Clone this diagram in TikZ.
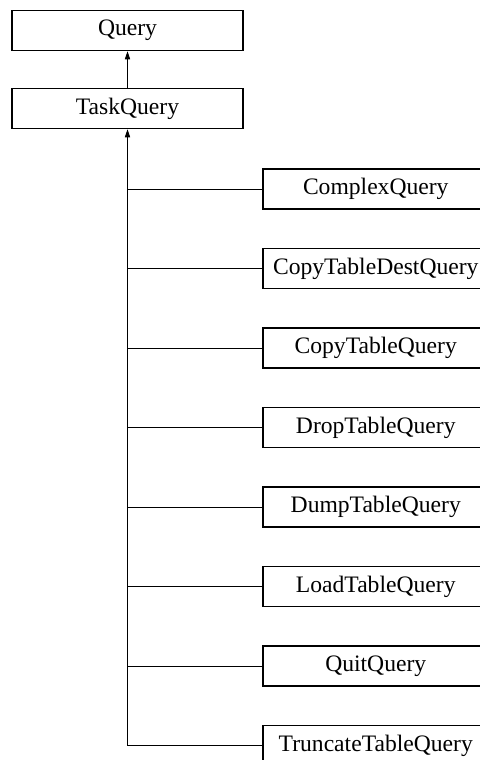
\documentclass[tikz,border=0pt]{standalone}
\usepackage{fontspec}
\setmainfont{Liberation Serif}
\usepackage{tikz}
\usetikzlibrary{arrows.meta,positioning}
\tikzset{
  cls/.style={draw, line width=0.75pt, fill=white, align=center,
              minimum height=20pt, inner sep=2pt,
              font=\fontsize{11.8}{14}\selectfont},
  base/.style={cls, minimum width=115.5pt},
  derived/.style={cls, minimum width=113pt, anchor=west},
  inherit/.style={-{Triangle[length=4pt,width=2.6pt]}, line width=0.5pt},
  branch/.style={line width=0.5pt}
}

\begin{document}
\begin{tikzpicture}[x=0.5pt, y=-0.5pt]
  \clip (0,0) rectangle (480,760);
  \useasboundingbox (0,0) rectangle (480,760);
  \node[base] (query) at (127.5,30.5) {Query};
  \node[base] (task) at (127.5,108.5) {TaskQuery};
  \node[derived] (complex) at (262,189) {ComplexQuery};
  \node[derived] (copydest) at (262,268.5) {CopyTableDestQuery};
  \node[derived] (copy) at (262,348) {CopyTableQuery};
  \node[derived] (drop) at (262,427.5) {DropTableQuery};
  \node[derived] (dump) at (262,507) {DumpTableQuery};
  \node[derived] (load) at (262,586.5) {LoadTableQuery};
  \node[derived] (quit) at (262,666) {QuitQuery};
  \node[derived] (trunc) at (262,745.5) {TruncateTableQuery};
  \draw[inherit] (task) -- (query);
  \draw[inherit] (trunc.west) -| (task.south);
  \draw[branch] (complex.west) -- (complex.west -| task.south);
  \draw[branch] (copydest.west) -- (copydest.west -| task.south);
  \draw[branch] (copy.west) -- (copy.west -| task.south);
  \draw[branch] (drop.west) -- (drop.west -| task.south);
  \draw[branch] (dump.west) -- (dump.west -| task.south);
  \draw[branch] (load.west) -- (load.west -| task.south);
  \draw[branch] (quit.west) -- (quit.west -| task.south);
\end{tikzpicture}
\end{document}
